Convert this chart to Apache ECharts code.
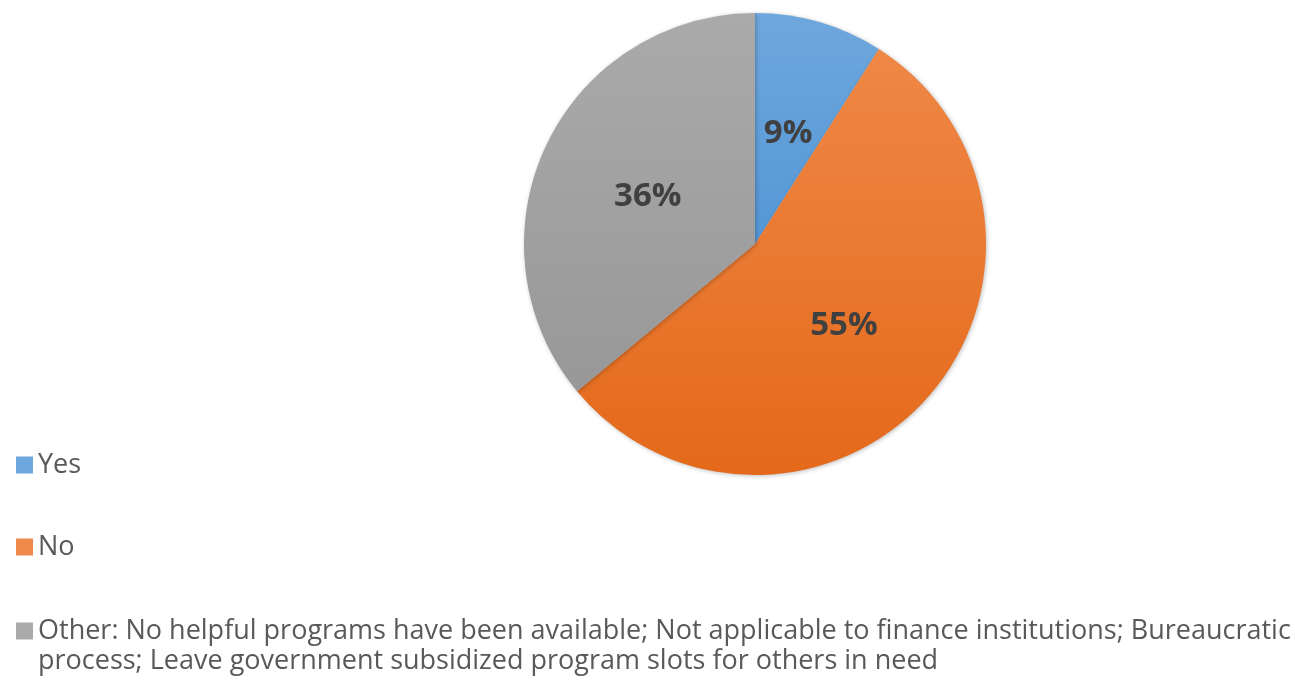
<!DOCTYPE html>
<html>
<head>
<meta charset="utf-8">
<script src="https://cdn.jsdelivr.net/npm/echarts@6/dist/echarts.min.js"></script>
<style>
html,body{margin:0;padding:0;background:#fff;}
#chart{width:1295px;height:680px;}
</style>
</head>
<body>
<div id="chart"></div>
<script>
const categories = ['Yes', 'No', 'Other: No helpful programs have been available; Not applicable to finance institutions; Bureaucratic process; Leave government subsidized program slots for others in need'];
const values = [9, 55, 36];
const colorsTop = ['#6ea7dd', '#f08a4a', '#aaaaaa'];
const colorsBottom = ['#3b87cf', '#e4691a', '#949494'];

const chart = echarts.init(document.getElementById('chart'));
const cx = 755, cy = 244, r = 231;

function grad(i) {
  return {
    type: 'linear', global: true,
    x: 0, y: cy - r, x2: 0, y2: cy + r,
    colorStops: [{offset: 0, color: colorsTop[i]}, {offset: 1, color: colorsBottom[i]}]
  };
}

const legendText = {
  fontFamily: 'Open Sans', fontSize: 27, color: '#595959', lineHeight: 30
};
function legendFor(i, top, extra) {
  return Object.assign({
    orient: 'vertical', left: 16, top: top, padding: 0,
    itemWidth: 17, itemHeight: 17, itemGap: 0,
    icon: 'rect', selectedMode: false,
    data: [categories[i]],
    textStyle: Object.assign({}, legendText)
  }, extra || {});
}

chart.setOption({
  animation: false,
  legend: [
    legendFor(0, 450),
    legendFor(1, 532),
    legendFor(2, 586, {
      formatter: function (name) {
        const k = name.indexOf('Bureaucratic') + 'Bureaucratic'.length;
        return ' \n' + name.slice(0, k) + '\n' + name.slice(k + 1);
      }
    })
  ],
  series: [{
    type: 'pie',
    center: [cx, cy],
    radius: [0, r],
    startAngle: 90,
    clockwise: true,
    avoidLabelOverlap: false,
    label: {
      show: true,
      position: 'inside',
      offset: [0, 3],
      formatter: function (p) { return p.value + '%'; },
      fontFamily: 'Open Sans', fontWeight: 'bold', fontSize: 33, color: '#404040'
    },
    labelLine: {show: false},
    itemStyle: {
      borderWidth: 0,
      shadowBlur: 4, shadowColor: 'rgba(0,0,0,0.25)', shadowOffsetX: 1, shadowOffsetY: 1
    },
    emphasis: {disabled: true},
    data: categories.map((c, i) => ({
      name: c, value: values[i],
      itemStyle: {color: grad(i)}
    }))
  }]
});
</script>
</body>
</html>
